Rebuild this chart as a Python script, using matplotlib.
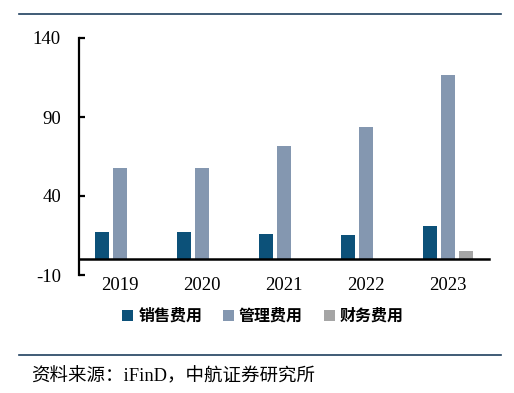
import matplotlib
matplotlib.use('Agg')
import matplotlib.pyplot as plt
import numpy as np

plt.rcParams['font.family'] = ['Liberation Serif', 'Noto Sans CJK SC']
plt.rcParams['axes.unicode_minus'] = False

years = ['2019', '2020', '2021', '2022', '2023']
sales = [16.9, 17.0, 16.2, 15.6, 20.7]
admin = [57.5, 57.5, 71.5, 83.5, 116.8]
finance = [0, 0, 0, 0, 5.5]
series_names = ['销售费用', '管理费用', '财务费用']
colors = ['#0c5179', '#8497b0', '#a5a5a5']
yticks = [-10, 40, 90, 140]

fig = plt.figure(figsize=(5.14, 3.93), dpi=100)
ax = fig.add_axes([79 / 514, 1 - 275 / 393, 410 / 514, 237 / 393])

x = np.arange(len(years))
w = 0.17
step = 0.223
for i, (vals, name, c) in enumerate(zip([sales, admin, finance], series_names, colors)):
    vals = np.array(vals)
    mask = vals > 0
    ax.bar(x[mask] + (i - 1) * step, vals[mask], width=w, color=c, label=name, zorder=2)

ax.set_xlim(-0.5, 4.5)
ax.set_ylim(-10, 140)
ax.set_yticks(yticks)
ax.set_yticklabels([str(t) for t in yticks])
ax.set_xticks(x)
ax.set_xticklabels(years)

for s in ['top', 'right']:
    ax.spines[s].set_visible(False)
ax.spines['left'].set_linewidth(1.6)
ax.spines['bottom'].set_position(('data', 0))
ax.spines['bottom'].set_linewidth(1.8)
ax.spines['bottom'].set_zorder(3)
ax.tick_params(axis='y', direction='in', length=4, width=1.6, pad=13, labelsize=13.5)
ax.tick_params(axis='x', length=0, pad=12.5, labelsize=13.5)

handles, labels = ax.get_legend_handles_labels()
fig.legend(handles, labels, loc='center', bbox_to_anchor=(263 / 514, 1 - 317 / 393),
           ncol=3, frameon=False, handlelength=0.7, handleheight=0.7,
           handletextpad=0.3, columnspacing=1.3,
           prop={'size': 11.5, 'weight': 'bold'})

# top and bottom rules
fig.add_artist(plt.Line2D([19 / 514, 501 / 514], [1 - 14 / 393] * 2, color='#1f3f5f', lw=1.2))
fig.add_artist(plt.Line2D([19 / 514, 501 / 514], [1 - 355 / 393] * 2, color='#1f3f5f', lw=1.2))

fig.text(31 / 514, 1 - 377 / 393, '资料来源：iFinD，中航证券研究所', fontsize=13.3, va='center', ha='left')

fig.savefig('out.png', dpi=100)
